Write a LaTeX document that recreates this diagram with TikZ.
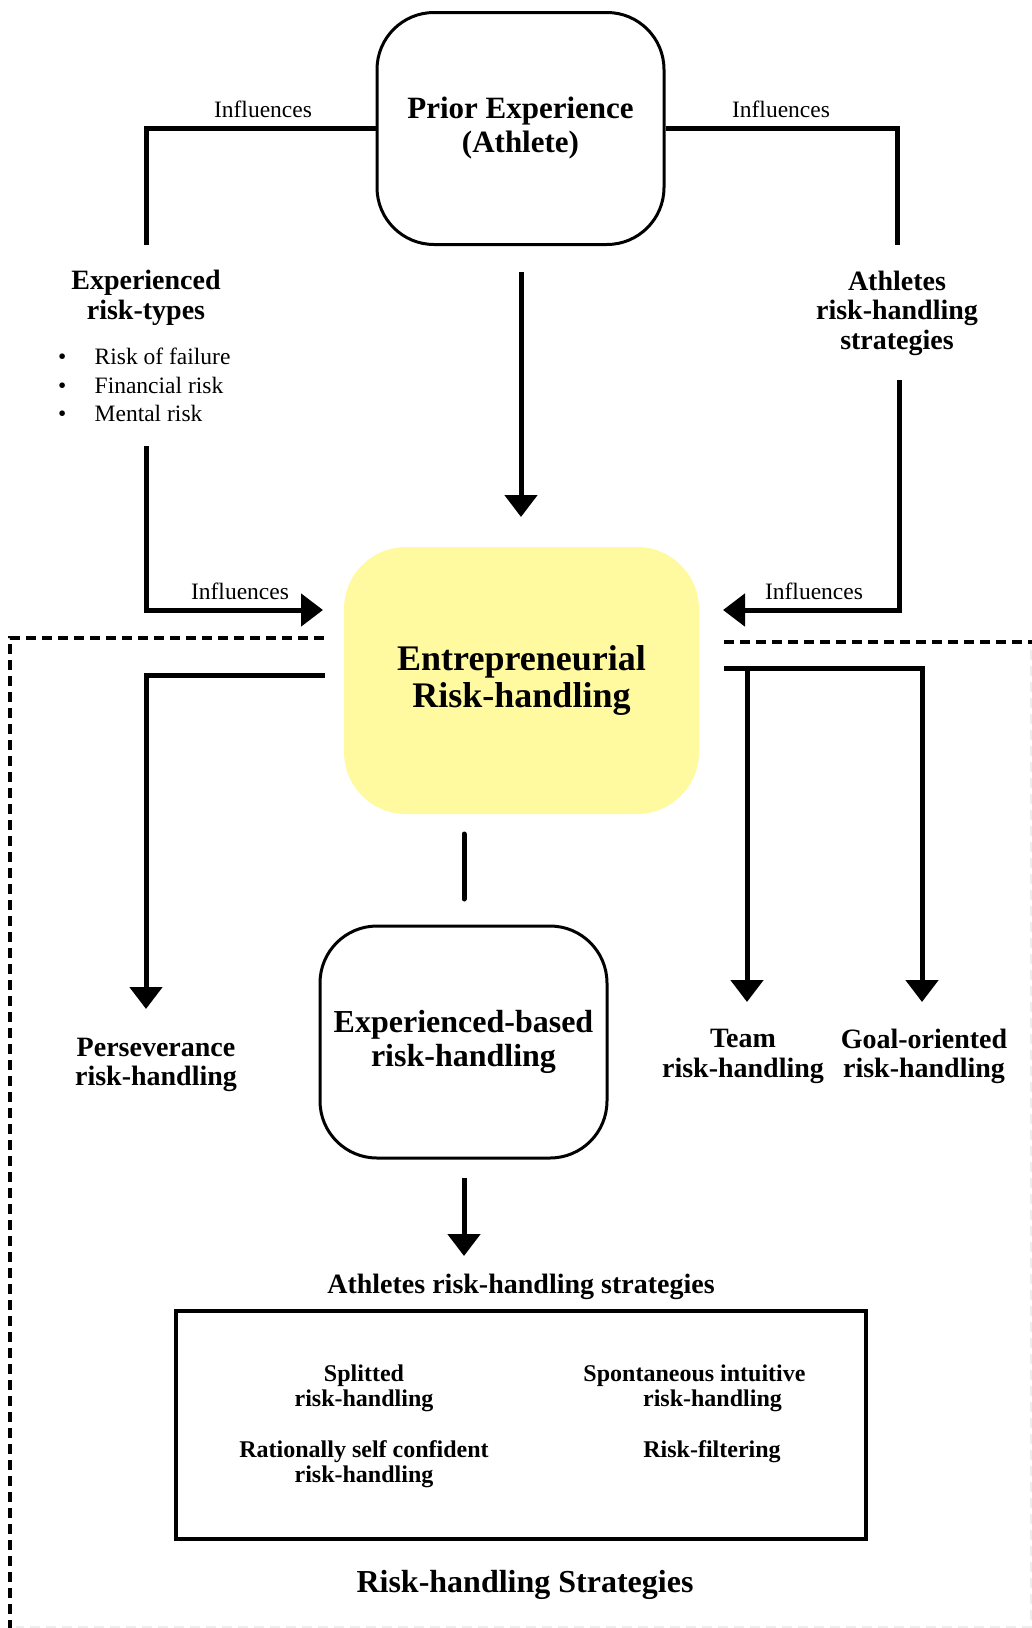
\documentclass[tikz,border=0pt]{standalone}
\usepackage{fontspec}
\setmainfont{Liberation Serif}
\usetikzlibrary{arrows.meta}
\definecolor{erhyellow}{RGB}{255,249,160}
\begin{document}
\begin{tikzpicture}[x=1pt,y=-1pt,
  conn/.style={line width=5pt},
  arr/.style={conn,-{Triangle[width=32pt,length=22pt]}},
  dashline/.style={line width=3.5pt,dash pattern=on 10pt off 6pt},
  faintdash/.style={line width=2pt,draw=black!7,dash pattern=on 10pt off 6pt},
  lbl/.style={font=\fontsize{23.5}{25}\selectfont,inner sep=0pt},
  btxt/.style={font=\fontsize{28}{29.5}\selectfont\bfseries,align=center,inner sep=0pt},
  stxt/.style={font=\fontsize{24}{25}\selectfont\bfseries,align=center,inner sep=0pt},
  roundbox/.style={draw,line width=3pt,rounded corners=57pt,minimum width=287pt,minimum height=232pt,align=center,inner sep=0pt},
]
\useasboundingbox (0,0) rectangle (1032,1628);

% main boxes
\node[roundbox,font=\fontsize{31}{34}\selectfont\bfseries] (prior) at (520.5,128.5) {Prior Experience\\(Athlete)};
\node[fill=erhyellow,rounded corners=62pt,minimum width=355pt,minimum height=267pt,align=center,inner sep=0pt,
      font=\fontsize{36}{37.5}\selectfont\bfseries] (erh) at (521.5,680.5) {Entrepreneurial\\Risk-handling};
\node[roundbox,font=\fontsize{32}{34}\selectfont\bfseries] (ebr) at (463.5,1042) {Experienced-based\\risk-handling};
\node[draw,line width=3.5pt,minimum width=690pt,minimum height=228pt,inner sep=0pt] (strat) at (521,1425) {};

% text nodes
\node[btxt] (exptypes) at (146,298) {Experienced\\risk-types};
\node[lbl,anchor=west,align=left,font=\fontsize{23.5}{28.5}\selectfont] (risklist) at (58,385)
  {\makebox[36.5pt][l]{\textbullet}Risk of failure\\\makebox[36.5pt][l]{\textbullet}Financial risk\\\makebox[36.5pt][l]{\textbullet}Mental risk};
\node[btxt] (athstrat) at (897,313) {Athletes\\risk-handling\\strategies};
\node[btxt] (persev) at (156,1065) {Perseverance\\risk-handling};
\node[btxt] (team) at (743,1056.5) {Team\\risk-handling};
\node[btxt] (goal) at (924,1056.5) {Goal-oriented\\risk-handling};
\node[btxt] (athstrat2) at (521,1287) {Athletes risk-handling strategies};
\node[stxt] (split) at (364,1388.5) {Splitted\\risk-handling};
\node[stxt] (spont) at (694.5,1388.5) {Spontaneous intuitive\\\hspace*{36pt}risk-handling};
\node[stxt] (ration) at (364,1464) {Rationally self confident\\risk-handling};
\node[stxt] (filter) at (712,1451.5) {Risk-filtering};
\node[font=\fontsize{32}{34}\selectfont\bfseries,inner sep=0pt] (rhs) at (525,1585) {Risk-handling Strategies};

% labels
\node[lbl] (inf1) at (263,109) {Influences};
\node[lbl] (inf2) at (781,109) {Influences};
\node[lbl] (inf3) at (240,591) {Influences};
\node[lbl] (inf4) at (814,591) {Influences};

% coordinates
\coordinate (c1) at (146,245);
\coordinate (c2) at (897,245);
\coordinate (c3s) at (521,272);
\coordinate (c3e) at (521,517);
\coordinate (c4s) at (146,446);
\coordinate (c4e) at (323,610);
\coordinate (c5s) at (899,380);
\coordinate (c5e) at (723,610);
\coordinate (c6s) at (325,675);
\coordinate (c6e) at (146,1009);
\coordinate (c7s) at (724,668);
\coordinate (c7e) at (922,1002);
\coordinate (c8s) at (747,668);
\coordinate (c8e) at (747,1002);
\coordinate (c9s) at (464,834);
\coordinate (c9e) at (464,899);
\coordinate (c10s) at (464,1178);
\coordinate (c10e) at (464,1256);
\coordinate (d1s) at (324,638);
\coordinate (d1c) at (10,638);
\coordinate (d1e) at (10,1640);
\coordinate (d2s) at (724,642);
\coordinate (d2e) at (1040,642);

% connectors
\draw[conn] (prior.west) -| (c1);
\draw[conn] (prior.east) -| (c2);
\draw[arr] (c3s) -- (c3e);
\draw[arr] (c4s) |- (c4e);
\draw[arr] (c5s) |- (c5e);
\draw[arr] (c6s) -| (c6e);
\draw[arr] (c7s) -| (c7e);
\draw[arr] (c8s) -- (c8e);
\draw[conn,line cap=round] (c9s) -- (c9e);
\draw[arr] (c10s) -- (c10e);

% dashed boundary
\draw[dashline] (d1s) -- (d1c) -- (d1e);
\draw[dashline] (d2s) -- (d2e);
\draw[faintdash] (1031,650) -- (1031,1627) -- (16,1627);
\end{tikzpicture}
\end{document}
